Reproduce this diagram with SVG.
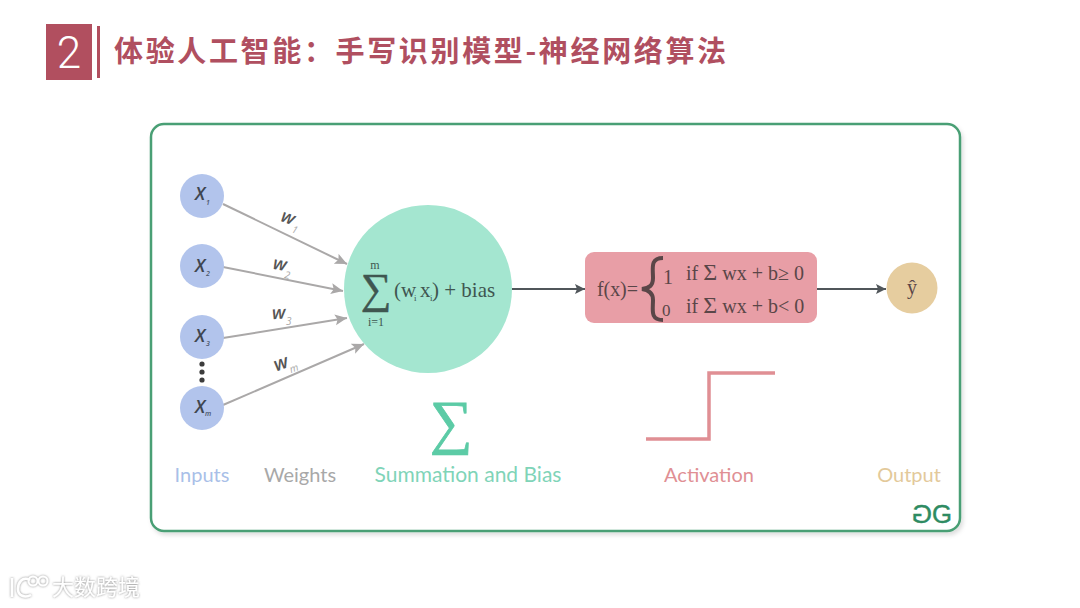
<svg xmlns="http://www.w3.org/2000/svg" width="1080" height="608" viewBox="0 0 1080 608">
<defs>
<marker id="ag" markerWidth="14" markerHeight="12" refX="12" refY="5.500" orient="auto" markerUnits="userSpaceOnUse"><path d="M0 0L12 5.500L0 11L2.500 5.500Z" fill="#aaa8a8"/></marker>
<marker id="ad" markerWidth="12" markerHeight="12" refX="10" refY="5" orient="auto" markerUnits="userSpaceOnUse"><path d="M0 0L10 5L0 10L2 5Z" fill="#50565a"/></marker>
<filter id="sh" x="-5%" y="-5%" width="110%" height="110%"><feDropShadow dx="2" dy="3" stdDeviation="2" flood-color="#000" flood-opacity="0.13"/></filter>
<filter id="wm" x="-10%" y="-20%" width="120%" height="140%"><feDropShadow dx="0" dy="0" stdDeviation="1.200" flood-color="#777" flood-opacity="0.9"/></filter>
</defs>
<style>
.s{font-family:"Liberation Serif",serif;fill:#3f5650}
.r{font-family:"Liberation Serif",serif;fill:#5a4648}
.i{font-family:"Open Sans","Liberation Sans",sans-serif;font-style:italic;font-weight:600;fill:#3f4650;text-anchor:middle}
.w{font-family:"Open Sans","Liberation Sans",sans-serif;font-style:italic;font-weight:600;fill:#555;text-anchor:middle}
.sub{font-family:"Open Sans","Liberation Sans",sans-serif;font-style:italic;fill:#a8a8a8}
.xs{font-family:"Open Sans","Liberation Sans",sans-serif;font-style:italic;font-weight:600;fill:#4a5468}
.l{font-family:"Lato","Open Sans",sans-serif;font-size:20px;text-anchor:middle}
.inp{fill:#b2c4ec}
.eg{stroke:#aaa8a8;stroke-width:2;fill:none;marker-end:url(#ag)}
.ed{stroke:#50565a;stroke-width:2;fill:none;marker-end:url(#ad)}
</style>
<rect width="1080" height="608" fill="#fff"/>
<g id="header">
<rect x="46" y="24" width="46" height="56" fill="#b14f5f"/>
<text x="69" y="68" font-family="Roboto,'Liberation Sans',sans-serif" font-weight="300" font-size="44" fill="#fff" text-anchor="middle">2</text>
<rect x="97" y="26" width="3" height="52" fill="#b14f5f"/>
<text x="114" y="62" font-family="'Noto Sans CJK SC',sans-serif" font-weight="700" font-size="29" letter-spacing="2.650" fill="#b04f60">体验人工智能：手写识别模型-神经网络算法</text>
</g>
<g id="frame"><rect x="151" y="124" width="809" height="407" rx="13" fill="#fff" stroke="#4a9f74" stroke-width="2.500" filter="url(#sh)"/></g>
<g id="connectors">
<path class="eg" d="M223 204L347 264"/>
<path class="eg" d="M223 267L343 291"/>
<path class="eg" d="M223 338L347 318"/>
<path class="eg" d="M223 405L364 344"/>
<path class="ed" d="M512 289L585 289"/>
<path class="ed" d="M816 289L886 289"/>
</g>
<g id="x1"><circle class="inp" cx="202" cy="196" r="22"/><text class="i" x="200" y="200" font-size="18">X</text><text class="xs" x="206" y="205" font-size="7">1</text></g>
<g id="x2"><circle class="inp" cx="202" cy="266" r="22"/><text class="i" x="200" y="272" font-size="18">X</text><text class="xs" x="206" y="276" font-size="7">2</text></g>
<g id="x3"><circle class="inp" cx="202" cy="337" r="22"/><text class="i" x="200" y="342" font-size="18">X</text><text class="xs" x="206" y="346" font-size="7">3</text></g>
<g id="xm"><circle class="inp" cx="202" cy="408" r="22"/><text class="i" x="200" y="413" font-size="18">X</text><text class="xs" x="205" y="416" font-size="7">m</text></g>
<g id="dots" fill="#3c3c3c"><circle cx="202" cy="364" r="2.600"/><circle cx="202" cy="372" r="2.600"/><circle cx="202" cy="380" r="2.600"/></g>
<g id="weights">
<text class="w" x="286" y="223" font-size="18" transform="rotate(20 286 223)">w</text><text class="sub" x="291" y="232" font-size="10" transform="rotate(20 291 232)">1</text>
<text class="w" x="279" y="270" font-size="18" transform="rotate(10 279 270)">w</text><text class="sub" x="284" y="278" font-size="10" transform="rotate(10 284 278)">2</text>
<text class="w" x="279" y="319" font-size="18" transform="rotate(-3 279 319)">w</text><text class="sub" x="286" y="325" font-size="10">3</text>
<text class="w" x="283" y="369" font-size="19" transform="rotate(-20 283 369)">w</text><text class="sub" x="291" y="373" font-size="10" transform="rotate(-20 291 373)">m</text>
</g>
<g id="sum">
<circle cx="428" cy="289" r="84" fill="#a4e6d0"/>
<text class="s" x="375" y="269" font-size="12" text-anchor="middle">m</text>
<text class="s" x="376" y="303" font-size="43" text-anchor="middle" stroke="#3f5650" stroke-width="0.500">∑</text>
<text class="s" x="376" y="326" font-size="12" text-anchor="middle">i=1</text>
<text class="s" x="394" y="297" font-size="21">(w</text><text class="s" x="414" y="301" font-size="9">i</text>
<text class="s" x="420" y="297" font-size="21">x</text><text class="s" x="430" y="301" font-size="9">i</text>
<text class="s" x="432" y="297" font-size="21">) + bias</text>
</g>
<g id="activation">
<rect x="585" y="252" width="232" height="71" rx="9" fill="#e89ea6"/>
<text class="r" x="597" y="296" font-size="20" textLength="41">f(x)=</text>
<path d="M663 258C650 258 653 268 653 278C653 286 649 288 642 289C649 290 653 293 653 300C653 310 650 320 663 320" fill="none" stroke="#5a4648" stroke-width="4"/>
<text class="r" x="663" y="284" font-size="20">1</text>
<text class="r" x="662" y="316" font-size="17">0</text>
<text class="r" x="686" y="280" font-size="20">if <tspan font-size="24">Σ</tspan> wx + b≥ 0</text>
<text class="r" x="686" y="313" font-size="20">if <tspan font-size="24">Σ</tspan> wx + b&lt; 0</text>
</g>
<g id="output"><circle cx="912" cy="288" r="25.500" fill="#e6cd9f"/><text class="r" x="912" y="294" font-size="20" text-anchor="middle">ŷ</text></g>
<g id="icons">
<text x="451" y="442" font-family="'Liberation Serif',serif" font-size="60" fill="#5ccba6" stroke="#5ccba6" stroke-width="0.800" text-anchor="middle">∑</text>
<path d="M646 439L709 439L709 373L775 373" fill="none" stroke="#e08f94" stroke-width="3.500"/>
</g>
<g id="labels">
<text class="l" x="202" y="482" fill="#a9bfe8">Inputs</text>
<text class="l" x="300" y="482" fill="#a8a8a8">Weights</text>
<text class="l" x="468" y="482" fill="#7fd4b8" style="font-size:21px">Summation and Bias</text>
<text class="l" x="709" y="482" fill="#e08f94">Activation</text>
<text class="l" x="909" y="482" fill="#e3c99a">Output</text>
</g>
<g id="logo" font-family="'Liberation Sans',sans-serif" font-size="25" fill="#2e8b62" stroke="#2e8b62" stroke-width="0.400">
<text transform="translate(932 523) scale(-1.050 1)">G</text>
<text x="932" y="523" textLength="20" lengthAdjust="spacingAndGlyphs">G</text>
</g>
<g id="watermark" filter="url(#wm)">
<path d="M12 578L12 597M30 580C22 576 18 583 18 589C18 596 25 598 31 595" fill="none" stroke="#fff" stroke-width="2.500"/>
<circle cx="33" cy="581" r="4.500" fill="none" stroke="#fff" stroke-width="2"/>
<circle cx="43" cy="581" r="4.500" fill="none" stroke="#fff" stroke-width="2"/>
<text x="52" y="595" font-family="'Noto Sans CJK SC',sans-serif" font-size="22" fill="#fff">大数跨境</text>
</g>
</svg>
